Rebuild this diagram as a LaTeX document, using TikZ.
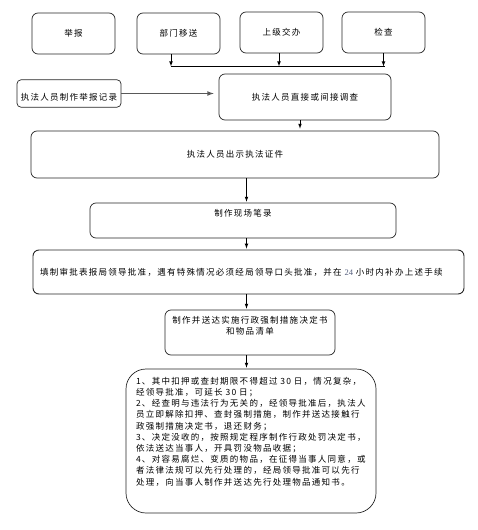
\documentclass[tikz,border=0pt]{standalone}
\usepackage{fontspec}
\setmainfont{Liberation Serif}
\newfontfamily\cjk[LetterSpace=15]{Noto Sans CJK SC}
\usetikzlibrary{arrows}
\definecolor{numgray}{RGB}{85,95,125}
\tikzset{
  box/.style={draw=black!85, line width=0.7pt, rounded corners=6pt,
    inner sep=3pt, font=\cjk\fontsize{8.5}{11.2}\selectfont},
  src/.style={box, minimum width=83pt, minimum height=41pt},
}

\begin{document}
\begin{tikzpicture}[>= latex, x=1pt, y=-1pt]
\useasboundingbox (0,0) rectangle (477,530);
%% sources
\draw (73.5,33.5) node[src] (jubao) {举报};
\draw (jubao) ++ (105,0) node[src] (yisong) {部门移送};
\draw (yisong) ++ (103,-1) node[src] (jiaoban) {上级交办};
\draw (jiaoban) ++ (102,0) node[src] (jiancha) {检查};
%% bus
\draw (yisong.south) ++ (-7.5,12) coordinate (busL);
\draw (jiaoban.south) ++ (-2.5,13) coordinate (busM);
\draw (jiancha.south) ++ (0,13) coordinate (busR);
\path[draw, ->, line width=0.7pt] (busL |- yisong.south) -- (busL);
\path[draw, ->, line width=0.7pt] (busM |- jiaoban.south) -- (busM);
\path[draw, ->, line width=0.7pt] (jiancha.south) -- (busR);
\path[draw, line width=0.7pt] (busL) -- ++(214,0);

%%%%%%%%%%%%%%%%%%%%%% Investigation

\draw (jiaoban) ++ (23.5,64.5) node[box, minimum width=172pt,
  minimum height=46pt] (diaocha) {执法人员直接或间接调查};
%% record
\draw (diaocha) ++ (-236,-3.5) node[box, minimum width=104pt,
  inner ysep=2pt, text height=18.5pt, text depth=4.9pt,
  rounded corners=4pt] (jilu) {执法人员制作举报记录};
\path[draw, ->, black!65, line width=1.2pt, shorten >=5pt]
  (jilu.east) -- (jilu.east -| diaocha.west);

%%%%%%%%%%%%%%%%%%%%%% Procedure

\coordinate (axis) at (246.5,0);
\draw (diaocha.south) ++ (-5,0) coordinate (d1);
%% ID
\draw (diaocha) ++ (-70,57.5) node[box, minimum width=408pt,
  minimum height=47pt] (zhengjian) {执法人员出示执法证件};
\path[draw, ->, line width=0.7pt, shorten >=2pt] (d1) -- (d1 |- zhengjian.north);
%% record on site
\draw (zhengjian) ++ (8,66) node[box, minimum width=306pt,
  text height=10pt, text depth=19pt] (bilu) {制作现场笔录};
\path[draw, ->, line width=0.7pt, shorten >=1pt]
  (axis |- zhengjian.south) -- (axis |- bilu.north);
%% approval
\draw (bilu) ++ (5.5,51.5) node[box, text width=417pt, inner xsep=7pt,
  align=left, minimum height=44pt, line width=0.9pt] (shenpi)
  {填制审批表报局领导批准，遇有特殊情况必须经局领导口头批准，并在 {\color{numgray}\rmfamily 24} 小时内补办上述手续};
\path[draw, ->, line width=0.7pt, shorten >=1pt]
  (axis |- bilu.south) -- (axis |- shenpi.north);
%% decision
\draw (shenpi) ++ (1.5,60.5) node[box, text width=164pt, align=center,
  text height=10pt, text depth=29pt] (jueding)
  {制作并送达实施行政强制措施决定书\\和物品清单};
\path[draw, ->, line width=0.7pt, shorten >=1pt]
  (axis |- shenpi.south) -- (axis |- jueding.north);
%% notes
\draw (jueding) ++ (1,108.5) node[box, rounded corners=20pt,
  text width=230pt, inner xsep=10pt, align=left,
  text height=12.2pt, text depth=125.8pt] (note)
  {1、其中扣押或查封期限不得超过 30 日，情况复杂，\\
   经领导批准，可延长 30 日；\\
   2、经查明与违法行为无关的，经领导批准后，执法人\\
   员立即解除扣押、查封强制措施，制作并送达接触行\\
   政强制措施决定书，退还财务；\\
   3、决定没收的，按照规定程序制作行政处罚决定书，\\
   依法送达当事人，开具罚没物品收据；\\
   4、对容易腐烂、变质的物品，在征得当事人同意，或\\
   者法律法规可以先行处理的，经局领导批准可以先行\\
   处理，向当事人制作并送达先行处理物品通知书。};
\path[draw, ->, line width=0.7pt, shorten >=1pt]
  (axis |- jueding.south) -- (axis |- note.north);
\end{tikzpicture}
\end{document}
